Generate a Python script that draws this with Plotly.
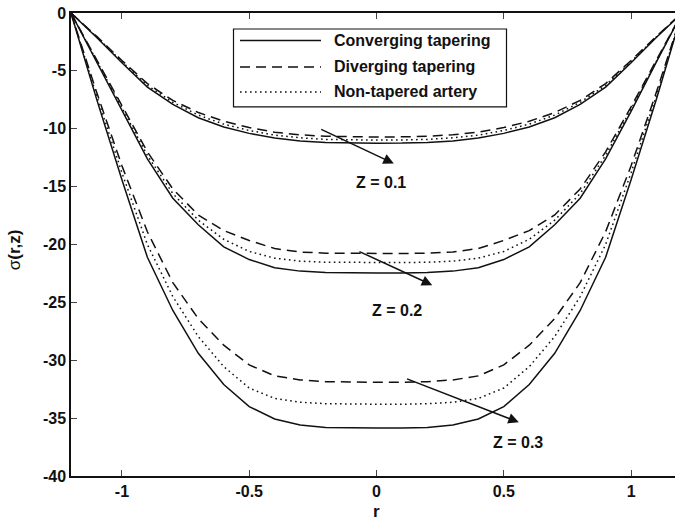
import plotly.graph_objects as go

# radial positions
r = [-1.2, -1.1, -1.0, -0.9, -0.8, -0.7, -0.6, -0.5, -0.4, -0.3, -0.2, -0.1, 0.0,
     0.1, 0.2, 0.3, 0.4, 0.5, 0.6, 0.7, 0.8, 0.9, 1.0, 1.1, 1.2]

# Z = 0.1
conv_z1 = [0, -2.1, -4.3, -6.4, -7.9, -9.05, -9.85, -10.4, -10.8, -11.05, -11.18, -11.24, -11.25,
           -11.24, -11.18, -11.05, -10.8, -10.4, -9.85, -9.05, -7.9, -6.4, -4.3, -2.1, 0]
div_z1 = [0, -2.0, -4.1, -6.1, -7.55, -8.6, -9.35, -9.9, -10.3, -10.52, -10.65, -10.7, -10.72,
          -10.7, -10.65, -10.52, -10.3, -9.9, -9.35, -8.6, -7.55, -6.1, -4.1, -2.0, 0]
non_z1 = [0, -2.05, -4.2, -6.25, -7.72, -8.82, -9.6, -10.15, -10.55, -10.78, -10.92, -10.97, -10.98,
          -10.97, -10.92, -10.78, -10.55, -10.15, -9.6, -8.82, -7.72, -6.25, -4.2, -2.05, 0]

# Z = 0.2
conv_z2 = [0, -4.2, -8.5, -12.6, -16.0, -18.3, -20.2, -21.3, -22.0, -22.3, -22.42, -22.46, -22.47,
           -22.46, -22.42, -22.3, -22.0, -21.3, -20.2, -18.3, -16.0, -12.6, -8.5, -4.2, 0]
div_z2 = [0, -4.0, -8.1, -12.0, -15.2, -17.45, -18.8, -19.65, -20.35, -20.65, -20.75, -20.78, -20.8,
          -20.78, -20.75, -20.65, -20.35, -19.65, -18.8, -17.45, -15.2, -12.0, -8.1, -4.0, 0]
non_z2 = [0, -4.1, -8.3, -12.3, -15.6, -17.9, -19.55, -20.6, -21.18, -21.44, -21.53, -21.56, -21.57,
          -21.56, -21.53, -21.44, -21.18, -20.6, -19.55, -17.9, -15.6, -12.3, -8.3, -4.1, 0]

# Z = 0.3
conv_z3 = [0, -7.4, -14.4, -21.1, -25.7, -29.4, -32.1, -34.0, -35.07, -35.6, -35.8, -35.85, -35.86,
           -35.85, -35.8, -35.6, -35.07, -34.0, -32.1, -29.4, -25.7, -21.1, -14.4, -7.4, 0]
div_z3 = [0, -6.8, -13.2, -18.9, -23.3, -26.4, -28.7, -30.4, -31.35, -31.7, -31.85, -31.9, -31.9,
          -31.9, -31.85, -31.7, -31.35, -30.4, -28.7, -26.4, -23.3, -18.9, -13.2, -6.8, 0]
non_z3 = [0, -7.1, -13.8, -20.0, -24.5, -27.95, -30.55, -32.4, -33.3, -33.63, -33.75, -33.8, -33.8,
          -33.8, -33.75, -33.63, -33.3, -32.4, -30.55, -27.95, -24.5, -20.0, -13.8, -7.1, 0]

x_ticks = [-1, -0.5, 0, 0.5, 1]
x_tick_text = ["-1", "-0.5", "0", "0.5", "1"]
y_ticks = [0, -5, -10, -15, -20, -25, -30, -35, -40]
y_tick_text = ["0", "-5", "-10", "-15", "-20", "-25", "-30", "-35", "-40"]

series_names = ["Converging tapering", "Diverging tapering", "Non-tapered artery"]
z_labels = ["Z = 0.1", "Z = 0.2", "Z = 0.3"]

FONT = "Liberation Sans, Arial, Helvetica, sans-serif"
INK = "#111111"
SOLID = "solid"
DASHED = "10px,6px"
DOTTED = "1.6px,3.4px"
styles = [SOLID, DASHED, DOTTED]

fig = go.Figure()
groups = [
    (conv_z1, div_z1, non_z1),
    (conv_z2, div_z2, non_z2),
    (conv_z3, div_z3, non_z3),
]
for gi, grp in enumerate(groups):
    for si, ys in enumerate(grp):
        fig.add_trace(go.Scatter(
            x=r, y=ys, mode="lines",
            name=f"{series_names[si]} ({z_labels[gi]})",
            line=dict(color=INK, width=1.5, dash=styles[si]),
            showlegend=False,
        ))

# plot-area geometry helpers (paper coordinates from pixel positions)
L, R, T, B = 71, 675, 12.5, 476
W, H = R - L, B - T


def px(xp):
    return (xp - L) / W


def py(yp):
    return (B - yp) / H


shapes = []
annotations = []

# hand-built legend box with long line samples
shapes.append(dict(type="rect", xref="paper", yref="paper",
                   x0=px(233.5), x1=px(506.5), y0=py(106.5), y1=py(28.5),
                   line=dict(color=INK, width=1.2), fillcolor="white", layer="above"))
rows = [40, 66.5, 91.5]
for si, yrow in enumerate(rows):
    shapes.append(dict(type="line", xref="paper", yref="paper",
                       x0=px(240), x1=px(321), y0=py(yrow), y1=py(yrow),
                       line=dict(color=INK, width=1.5, dash=styles[si]), layer="above"))
    annotations.append(dict(xref="paper", yref="paper", x=px(332), y=py(yrow),
                            text=f"<b>{series_names[si]}</b>", showarrow=False,
                            xanchor="left", yanchor="middle",
                            font=dict(family=FONT, size=16, color=INK)))

# arrows pointing at each family of curves, with their Z labels
arrows = [
    ((-0.223, -9.99), (0.068, -13.01), (0.016, -14.62)),
    ((-0.073, -20.55), (0.219, -23.51), (0.079, -25.71)),
    ((0.114, -31.56), (0.559, -35.36), (0.554, -37.1)),
]
for (tail, head, lab), zt in zip(arrows, z_labels):
    annotations.append(dict(x=head[0], y=head[1], ax=tail[0], ay=tail[1],
                            xref="x", yref="y", axref="x", ayref="y",
                            text="", showarrow=True, arrowhead=2, arrowsize=1.4,
                            arrowwidth=1.5, arrowcolor=INK, standoff=0))
    annotations.append(dict(x=lab[0], y=lab[1], xref="x", yref="y", text=f"<b>{zt}</b>",
                            showarrow=False, xanchor="center", yanchor="middle",
                            font=dict(family=FONT, size=16, color=INK)))

# axis titles
annotations.append(dict(xref="paper", yref="paper", x=px(376), y=py(512), text="<b>r</b>",
                        showarrow=False, xanchor="center", yanchor="middle",
                        font=dict(family=FONT, size=17, color=INK)))
annotations.append(dict(xref="paper", yref="paper", x=px(14), y=py(250),
                        text="σ<b>(r,z)</b>", textangle=-90,
                        showarrow=False, xanchor="center", yanchor="middle",
                        font=dict(family=FONT, size=17, color=INK)))

axis_common = dict(
    showgrid=False, zeroline=False, showline=True, linecolor=INK, linewidth=1.5,
    ticks="inside", ticklen=6, tickwidth=1, tickcolor="#444444",
    tickfont=dict(family=FONT, size=16, color=INK),
)

fig.update_layout(
    width=675, height=525,
    margin=dict(l=L, r=675 - R, t=T, b=525 - B, pad=0),
    paper_bgcolor="white", plot_bgcolor="white",
    xaxis=dict(range=[-1.2, 1.2 - (682 - R) / 254.5], tickvals=x_ticks,
               ticktext=[f"<b>{t}</b>" for t in x_tick_text],
               mirror="allticks", **axis_common),
    yaxis=dict(range=[-40, 0], tickvals=y_ticks,
               ticktext=[f"<b>{t}</b>" for t in y_tick_text],
               mirror=False, **axis_common),
    shapes=shapes,
    annotations=annotations,
)

fig.write_html("out.html")
